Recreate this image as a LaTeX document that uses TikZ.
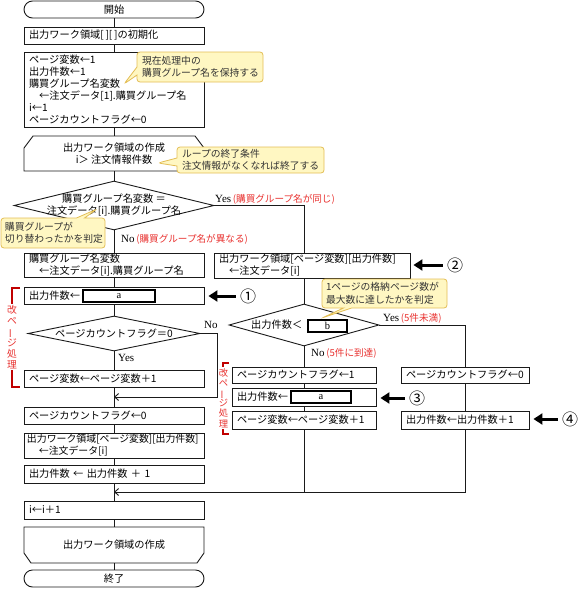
\documentclass[tikz,border=0pt]{standalone}
\usepackage{fontspec}
\usepackage{graphicx}
\usetikzlibrary{arrows.meta,shapes.geometric,shapes.callouts}
\newfontfamily\jp{Noto Sans CJK JP}
\newfontfamily\ys{Liberation Serif}
\definecolor{lineC}{HTML}{1A1A1A}
\definecolor{redT}{HTML}{E8312F}
\definecolor{brk}{HTML}{C00000}
\definecolor{callF}{HTML}{FFF7C2}
\definecolor{callD}{HTML}{E3BE55}
\definecolor{callT}{HTML}{333333}
\tikzset{
  base/.style={font=\jp\fontsize{10.2}{12}\selectfont},
  box/.style={base,draw=lineC,line width=0.9pt,fill=white,inner xsep=5pt,inner ysep=0pt,align=left},
  mainbox/.style={box,minimum width=180pt,text width=170pt},
  midbox/.style={box,minimum width=144pt,text width=134pt},
  rbox/.style={box,minimum width=128pt,text width=118pt},
  term/.style={base,draw=lineC,line width=0.9pt,rounded corners=8.5pt,minimum width=180pt,minimum height=17pt,inner sep=0pt},
  shapeline/.style={draw=lineC,line width=0.9pt},
  plain/.style={base,inner sep=0pt,align=center},
  dia/.style={shape=diamond,draw=lineC,line width=0.9pt,inner sep=0pt,shape aspect=1},
  inbox/.style={draw=black,line width=1.6pt,fill=white,inner sep=0pt,font=\ys\fontsize{10.5}{12}\selectfont},
  conn/.style={draw=lineC,line width=0.9pt},
  merge/.style={conn,-{Straight Barb[length=4pt,width=7pt]}},
  bigarrow/.style={draw=black,line width=3pt,-{Triangle[length=9pt,width=11pt]}},
  num/.style={font=\jp\fontsize{16}{16}\selectfont,inner sep=0pt},
  lbl/.style={base,inner sep=0pt,anchor=west},
  callout/.style={rectangle callout,draw=callD,fill=callF,line width=0.8pt,rounded corners=3pt,text=callT,
     font=\jp\fontsize{9.8}{12.5}\selectfont,align=left,inner xsep=5pt,inner ysep=0pt,callout pointer width=8pt},
  brkline/.style={draw=brk,line width=1.4pt},
  vtext/.style={font=\jp\fontsize{9.8}{11}\selectfont,text=redT,fill=white,inner xsep=1pt,inner ysep=1pt,align=center}
}
\newcommand{\yesw}{{\ys\fontsize{11}{12}\selectfont Yes}}
\newcommand{\now}{{\ys\fontsize{11}{12}\selectfont No}}
\newcommand{\redl}[1]{{\color{redT}\fontsize{9.6}{11}\selectfont #1}}
\newcommand{\vbar}{\rotatebox[origin=c]{90}{ー}}
\begin{document}
\begin{tikzpicture}[x=1pt,y=-1pt]
\useasboundingbox (0,0) rectangle (580,589);

% ---------- main column ----------
\node[term] (start) at (114,9.5) {開始};
\node[mainbox,minimum height=17pt] (init0) at (114,35.5) {出力ワーク領域[\,][\,]の初期化};
\node[mainbox,minimum height=75pt] (init1) at (114,89.5) {ページ変数←1\\出力件数←1\\購買グループ名変数\\\hspace*{1em}←注文データ[1].購買グループ名\\i←1\\ページカウントフラグ←0};

\draw[shapeline] (24,171) -- (24,148) -- (33,136) -- (195,136) -- (204,148) -- (204,171) -- cycle;
\node[plain,minimum width=180pt,minimum height=35pt] (ls) at (114,153.5) {出力ワーク領域の作成\\i＞ 注文情報件数};

\node[dia,minimum width=200pt,minimum height=49pt] (d1) at (114,205.5) {};
\node[plain] (d1t) at (d1.center) {購買グループ名変数 ＝\\注文データ[i].購買グループ名};

\node[mainbox,minimum height=24pt] (lg) at (114,265) {購買グループ名変数\\\hspace*{1em}←注文データ[i].購買グループ名};
\node[mainbox,minimum height=17pt] (a1) at (114,295.5) {出力件数←};
\node[inbox,minimum width=72pt,minimum height=12pt] (ia1) at (119,296) {a};

\node[dia,minimum width=172pt,minimum height=35pt] (d2) at (114,333.5) {};
\node[plain] (d2t) at (d2.center) {ページカウントフラグ＝0};

\node[mainbox,minimum height=17pt] (pv1) at (114,378.5) {ページ変数←ページ変数＋1};
\node[mainbox,minimum height=17pt] (pcf0) at (114,415.5) {ページカウントフラグ←0};
\node[mainbox,minimum height=25pt,inner xsep=3pt,text width=174pt,font=\jp\fontsize{9.9}{12}\selectfont] (ow1) at (114,445.5) {出力ワーク領域[ページ変数][出力件数]\\\hspace*{1.2em}←注文データ[i]};
\node[mainbox,minimum height=18pt] (oc1) at (114,474) {出力件数 ← 出力件数 ＋ 1};
\node[mainbox,minimum height=18pt] (inc) at (114,510) {i←i＋1};

\draw[shapeline] (24,527) -- (204,527) -- (204,553) -- (197,563) -- (31,563) -- (24,553) -- cycle;
\node[plain,minimum width=180pt,minimum height=36pt] (le) at (114,545) {出力ワーク領域の作成};
\node[term] (end) at (114,578.5) {終了};

% ---------- right part ----------
\node[box,minimum width=196pt,text width=186pt,minimum height=25pt] (box2) at (312,265.5) {出力ワーク領域[ページ変数][出力件数]\\\hspace*{1em}←注文データ[i]};

\node[dia,minimum width=150pt,minimum height=42pt] (d3) at (304,325) {};
\node[plain,anchor=west] (d3t) at (251,325) {出力件数＜};
\node[inbox,minimum width=39pt,minimum height=12pt] (ib) at (327.5,326) {b};

\node[midbox,minimum height=16pt] (pcf1) at (304,375) {ページカウントフラグ←1};
\node[midbox,minimum height=18pt] (oa2) at (304,397) {出力件数←};
\node[inbox,minimum width=60pt,minimum height=12pt] (ia2) at (321,397) {a};
\node[midbox,minimum height=18pt] (pv2) at (304,420) {ページ変数←ページ変数＋1};

\node[rbox,minimum height=16pt] (pcf0r) at (465,375) {ページカウントフラグ←0};
\node[rbox,minimum height=18pt] (inc2) at (465,420) {出力件数←出力件数＋1};

% ---------- connectors ----------
\draw[conn] (start.south) -- (init0.north);
\draw[conn] (init0.south) -- (init1.north);
\draw[conn] (init1.south) -- (ls.north);
\draw[conn] (ls.south) -- (d1.north);
\draw[conn] (d1.south) -- (lg.north);
\draw[conn] (lg.south) -- (a1.north);
\draw[conn] (a1.south) -- (d2.north);
\draw[conn] (d2.south) -- (pv1.north);
\draw[conn] (pv1.south) -- (pcf0.north);
\draw[conn] (pcf0.south) -- (ow1.north);
\draw[conn] (ow1.south) -- (oc1.north);
\draw[conn] (oc1.south) -- (inc.north);
\draw[conn] (inc.south) -- (le.north);
\draw[conn] (le.south) -- (end.north);

\coordinate (m1) at (114,397);
\coordinate (m1r) at (217,397);
\draw[merge] (d2.east) -| (m1r) -- (m1);

\draw[conn] (d1.east) -| (box2.north -| d3.north);
\draw[conn] (box2.south -| d3.north) -- (d3.north);
\draw[conn] (d3.south) -- (pcf1.north);
\draw[conn] (pcf1.south) -- (oa2.north);
\draw[conn] (oa2.south) -- (pv2.north);
\draw[conn] (d3.east) -| (pcf0r.north);
\draw[conn] (pcf0r.south) -- (inc2.north);

\coordinate (m2) at (114,492);
\coordinate (m2r) at (465,492);
\draw[conn] (pv2.south) -- (pv2.south |- m2);
\draw[merge] (inc2.south) -- (m2r) -- (m2);

% ---------- labels ----------
\node[lbl] (y1) at (215,199) {\yesw\,\redl{(購買グループ名が同じ)}};
\node[lbl] (n1) at (121,239) {\now\,\redl{(購買グループ名が異なる)}};
\node[lbl] (n2) at (204,325) {\now};
\node[lbl] (y2) at (118,358) {\yesw};
\node[lbl] (y3) at (383,318) {\yesw\,\redl{(5件未満)}};
\node[lbl] (n3) at (311,353) {\now\,\redl{(5件に到達)}};

% ---------- callouts ----------
\node[callout,minimum width=126pt,text width=116pt,minimum height=30pt,callout absolute pointer={(124,84)}] (co1) at (200,67) {現在処理中の\\購買グループ名を保持する};
\node[callout,minimum width=147pt,text width=137pt,minimum height=26pt,callout absolute pointer={(158,163)}] (co2) at (250.5,160) {ループの終了条件\\注文情報がなくなれば終了する};
\node[callout,minimum width=104pt,text width=96pt,inner xsep=4pt,minimum height=30pt,callout absolute pointer={(97,209)}] (co3) at (53,233) {購買グループが\\切り替わったかを判定};
\node[callout,minimum width=125pt,text width=117pt,inner xsep=4pt,minimum height=29pt,callout absolute pointer={(322,318)}] (co4) at (384.5,293.5) {1ページの格納ページ数が\\最大数に達したかを判定};

% ---------- red brackets ----------
\draw[brkline] (20,288) -- (12,288) -- (12,387) -- (20,387);
\node[vtext] (kp1) at (12,337) {改\\ペ\\\vbar\\ジ\\処\\理};
\draw[brkline] (229,363) -- (223,363) -- (223,434) -- (229,434);
\node[vtext,font=\jp\fontsize{9.3}{10.2}\selectfont] (kp2) at (223.5,398) {改\\ペ\\\vbar\\ジ\\処\\理};

% ---------- numbered arrows ----------
\node[num] (c1) at (248,296) {①};
\draw[bigarrow] ([xshift=-4pt]c1.west) -- ([xshift=4pt]c1.west -| a1.east);
\node[num] (c2) at (455,265) {②};
\draw[bigarrow] ([xshift=-4pt]c2.west) -- ([xshift=3pt]c2.west -| box2.east);
\node[num] (c3) at (417,398) {③};
\draw[bigarrow] ([xshift=-4pt]c3.west) -- ([xshift=4pt]c3.west -| oa2.east);
\node[num] (c4) at (570,419) {④};
\draw[bigarrow] ([xshift=-4pt]c4.west) -- ([xshift=4pt]c4.west -| inc2.east);
\end{tikzpicture}
\end{document}
